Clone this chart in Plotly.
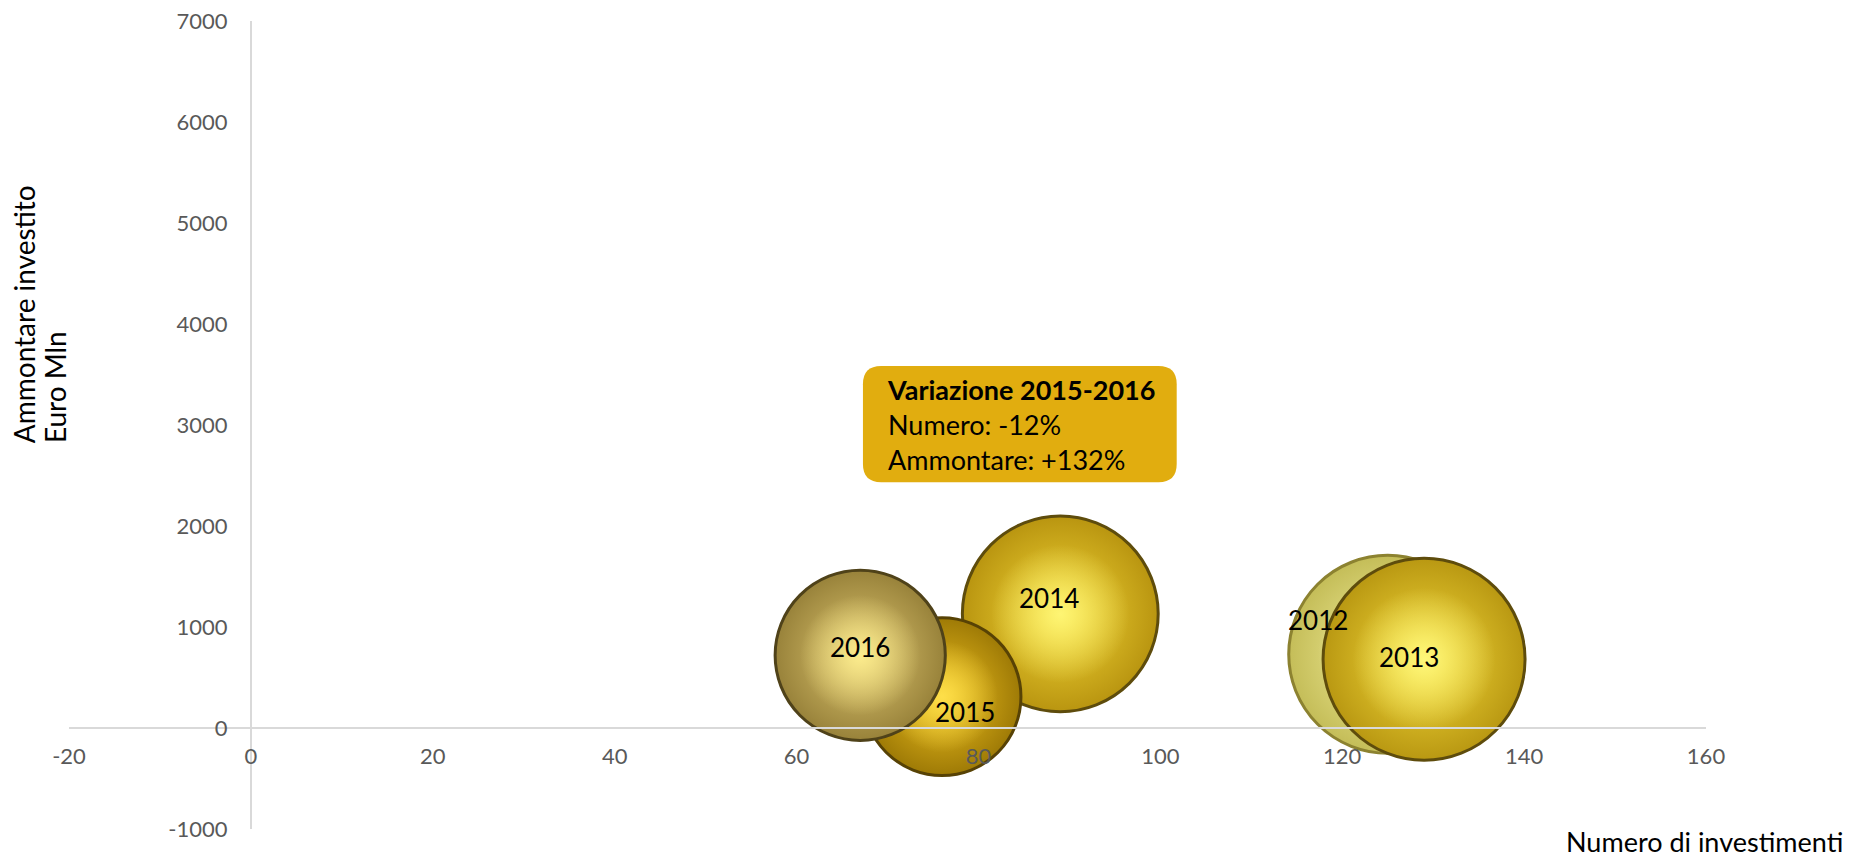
import plotly.graph_objects as go

# dati
anni = ['2012', '2013', '2014', '2015', '2016']
numero = [125, 129, 89, 76, 67]            # numero di investimenti
ammontare = [730, 680, 1130, 310, 720]     # Euro Mln
dimensione = [96, 100, 94, 61, 71]         # dimensione bolla (relativa)

x_ticks = [-20, 0, 20, 40, 60, 80, 100, 120, 140, 160]
y_ticks = [-1000, 0, 1000, 2000, 3000, 4000, 5000, 6000, 7000]

box_titolo = 'Variazione 2015-2016'
box_righe = ['Numero: -12%', 'Ammontare: +132%']

# stile
FONT = 'Lato'
bordo_col = ['#8c8230', '#5e4c0c', '#5e4c0c', '#574205', '#4f4219']
esterno_col = ['#c4bd58', '#b99812', '#b99510', '#9e7a06', '#98823a']
centro_col = ['#f6f2a0', '#f6dc3c', '#f4d838', '#f0c220', '#e0c872']
luce_col = ['#fbf9c8', '#fffa80', '#fff87a', '#ffe24e', '#fff090']

max_diam = 202
sizeref = 2 * max(dimensione) / max_diam ** 2

def rgba(h, a):
  return f'rgba({int(h[1:3], 16)},{int(h[3:5], 16)},{int(h[5:7], 16)},{a})'

fig = go.Figure()
for i in range(len(anni)):
  # sfera
  fig.add_trace(go.Scatter(
    x = [numero[i]], y = [ammontare[i]], mode = 'markers',
    marker = dict(
      size = [dimensione[i]], sizemode = 'area', sizeref = sizeref,
      color = esterno_col[i],
      gradient = dict(type = 'radial', color = centro_col[i]),
      line = dict(color = bordo_col[i], width = 3), opacity = 1,
    ),
    hoverinfo = 'skip', showlegend = False,
  ))
  # riflesso
  fig.add_trace(go.Scatter(
    x = [numero[i]], y = [ammontare[i]], mode = 'markers',
    marker = dict(
      size = [dimensione[i] * 0.5], sizemode = 'area', sizeref = sizeref,
      color = rgba(luce_col[i], 0),
      gradient = dict(type = 'radial', color = rgba(luce_col[i], 0.9)),
      line = dict(width = 0), opacity = 1,
    ),
    hoverinfo = 'skip', showlegend = False,
  ))

# etichette sopra tutte le bolle
shift = {'2012': (-70, 34), '2013': (-15, 2), '2014': (-11, 16), '2015': (23, -15), '2016': (0, 8)}
for a, xv, yv in zip(anni, numero, ammontare):
  fig.add_annotation(
    x = xv, y = yv, text = a, showarrow = False,
    xshift = shift[a][0], yshift = shift[a][1],
    font = dict(family = FONT, size = 26, color = 'black'),
  )

# riquadro con angoli arrotondati
x0, x1, y0, y1 = 67.3, 101.8, 2434, 3584
rx, ry = 2.0, 180
path = (f'M {x0+rx},{y0} L {x1-rx},{y0} Q {x1},{y0} {x1},{y0+ry} '
        f'L {x1},{y1-ry} Q {x1},{y1} {x1-rx},{y1} L {x0+rx},{y1} '
        f'Q {x0},{y1} {x0},{y1-ry} L {x0},{y0+ry} Q {x0},{y0} {x0+rx},{y0} Z')
fig.add_shape(type = 'path', path = path, xref = 'x', yref = 'y',
              fillcolor = '#e1ad0f', line = dict(width = 0), layer = 'above')
fig.add_annotation(
  x = x0 + 2.4, y = (y0 + y1) / 2, xanchor = 'left', yanchor = 'middle',
  text = f'<b>{box_titolo}</b><br>' + '<br>'.join(box_righe),
  align = 'left', showarrow = False,
  font = dict(family = FONT, size = 27, color = 'black'),
)

# titoli assi (due righe separate per controllare l'interlinea)
for txt, xp in [('Ammontare investito', -0.0275), ('Euro Mln', -0.0086)]:
  fig.add_annotation(
    xref = 'paper', yref = 'paper', x = xp, y = 0.475,
    xanchor = 'center', yanchor = 'bottom', textangle = -90,
    text = txt, showarrow = False,
    font = dict(family = FONT, size = 28, color = 'black'),
  )
fig.add_annotation(
  xref = 'paper', yref = 'paper', x = 1.085, y = -0.016,
  xanchor = 'right', yanchor = 'middle',
  text = 'Numero di investimenti', showarrow = False,
  font = dict(family = FONT, size = 27, color = 'black'),
)

asse = dict(showgrid = False, zeroline = False, showline = True,
            linecolor = '#d9d9d9', linewidth = 2, ticks = '',
            automargin = False, ticklabeloverflow = 'allow',
            tickfont = dict(family = FONT, size = 22, color = '#595959'))

# la pagina ha 8px di margine sul body: margini ridotti di conseguenza
fig.update_layout(
  width = 1852, height = 856,
  margin = dict(l = 61, r = 154, t = 13, b = 35, autoexpand = False),
  paper_bgcolor = 'white', plot_bgcolor = 'white',
  xaxis = dict(asse, range = [-20, 160], tickvals = x_ticks,
               ticktext = [str(v) for v in x_ticks], anchor = 'free',
               position = 0.125, ticklabelstandoff = 9),
  yaxis = dict(asse, range = [-1000, 7000], tickvals = y_ticks,
               ticktext = [str(v) for v in y_ticks], anchor = 'free',
               position = 20 / 180, ticklabelstandoff = 18),
)

fig.write_html('out.html')
